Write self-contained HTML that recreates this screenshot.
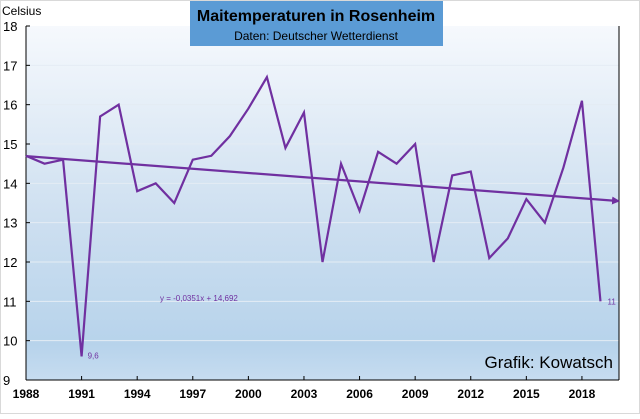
<!DOCTYPE html>
<html><head><meta charset="utf-8"><style>
body{margin:0;background:#fff;font-family:"Liberation Sans",sans-serif}
#c{position:relative;width:640px;height:414px}
</style></head><body>
<div id="c">
<svg width="640" height="414" viewBox="0 0 640 414" font-family="Liberation Sans, sans-serif">
<defs>
<linearGradient id="bg" x1="0" y1="0" x2="0" y2="1">
<stop offset="0" stop-color="#f6f9fd"/><stop offset="0.55" stop-color="#cddff0"/><stop offset="0.9" stop-color="#b7d3eb"/><stop offset="1" stop-color="#c6dcf0"/>
</linearGradient>
<marker id="ar" markerWidth="8" markerHeight="8" refX="6" refY="4" orient="auto" markerUnits="userSpaceOnUse"><path d="M0,0 L8,4 L0,8 z" fill="#7030a0"/></marker>
</defs>
<rect x="0.5" y="0.5" width="639" height="413" fill="#fff" stroke="#d9d9d9"/>
<rect x="26" y="26" width="593" height="354" fill="url(#bg)"/>
<g id="grid"></g>
<line x1="26" y1="26" x2="26" y2="380" stroke="#000"/>
<line x1="26" y1="380" x2="619" y2="380" stroke="#000"/>
<line x1="619" y1="26" x2="619" y2="380" stroke="#000"/>
<g id="ticks"></g>
<g id="series"></g>
<text x="2" y="15" font-size="12">Celsius</text>
<rect x="190" y="1" width="253" height="45" fill="#5b9bd5"/>
<text x="316" y="21" font-size="16" font-weight="bold" text-anchor="middle">Maitemperaturen in Rosenheim</text>
<text x="316" y="40" font-size="12" text-anchor="middle">Daten: Deutscher Wetterdienst</text>
<text x="160" y="301" font-size="8" fill="#7030a0">y = -0,0351x + 14,692</text>
<text x="613" y="368" font-size="17" text-anchor="end">Grafik: Kowatsch</text>
</svg>
</div>
<script>
const years=[1988,1989,1990,1991,1992,1993,1994,1995,1996,1997,1998,1999,2000,2001,2002,2003,2004,2005,2006,2007,2008,2009,2010,2011,2012,2013,2014,2015,2016,2017,2018,2019];
const temps=[14.7,14.5,14.6,9.6,15.7,16.0,13.8,14.0,13.5,14.6,14.7,15.2,15.9,16.7,14.9,15.8,12.0,14.5,13.3,14.8,14.5,15.0,12.0,14.2,14.3,12.1,12.6,13.6,13.0,14.4,16.1,11.0];
const yTicks=[9,10,11,12,13,14,15,16,17,18];
const xTickLabels=[1988,1991,1994,1997,2000,2003,2006,2009,2012,2015,2018];
const trendSlope=-0.0351, trendIntercept=14.692;
const NS='http://www.w3.org/2000/svg';
const X=y=>26+(y-1988)*593/32;
const Y=v=>380-(v-9)*354/9;
function mk(tag,attrs,parent,txt){const e=document.createElementNS(NS,tag);for(const k in attrs)e.setAttribute(k,attrs[k]);if(txt!==undefined)e.textContent=txt;parent.appendChild(e);return e;}
const grid=document.getElementById('grid'),ticks=document.getElementById('ticks'),series=document.getElementById('series');
yTicks.forEach(t=>{
  if(t>9&&t<18){const g=mk('line',{x1:26,x2:619,y1:Y(t),y2:Y(t),stroke:'#e4ecf4','stroke-width':1},grid);
  
  }
  const tk=mk('line',{x1:26,x2:30,y1:Y(t),y2:Y(t),stroke:'#000'},ticks);
  
  
  const l=mk('text',{x:3,y:Y(t)+5,'font-size':13},ticks,String(t));
  
  
});
xTickLabels.forEach(yr=>{
  const tk=mk('line',{x1:X(yr),x2:X(yr),y1:376,y2:380,stroke:'#000'},ticks);
  
  
  const l=mk('text',{x:X(yr),y:398,'font-size':12,'font-weight':'bold','text-anchor':'middle'},ticks,String(yr));
  
  
});
const pts=years.map((y,i)=>X(y)+','+Y(temps[i])).join(' ');
const pl=mk('polyline',{points:pts,fill:'none',stroke:'#7030a0','stroke-width':2.2,'stroke-linejoin':'miter'},series);


const tr=mk('line',{x1:X(1988),y1:Y(trendIntercept),x2:X(2020)-1,y2:Y(trendIntercept+trendSlope*32.5),stroke:'#7030a0','stroke-width':2.2,'marker-end':'url(#ar)'},series);


const iMin=temps.indexOf(Math.min(...temps));
const l1=mk('text',{x:X(years[iMin])+6,y:Y(temps[iMin])+2,'font-size':8,fill:'#7030a0'},series,String(temps[iMin]).replace('.',','));


const last=temps.length-1;
const l2=mk('text',{x:X(years[last])+7,y:Y(temps[last])+3,'font-size':8,fill:'#7030a0'},series,String(temps[last]).replace('.',','));


</script>
</body></html>
